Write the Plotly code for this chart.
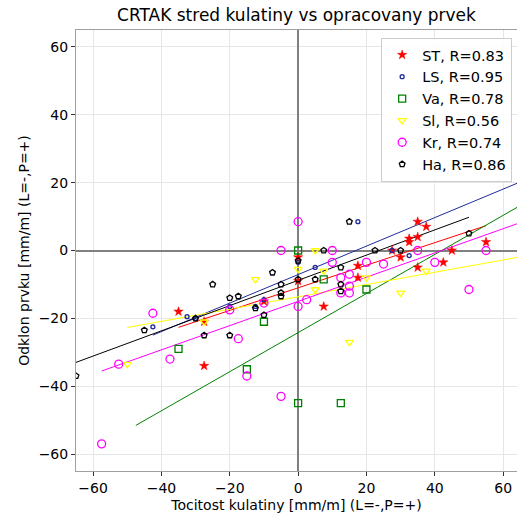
import plotly.graph_objects as go

title = "CRTAK stred kulatiny vs opracovany prvek"
x_title = "Tocitost kulatiny [mm/m] (L=-,P=+)"
y_title = "Odklon prvku [mm/m] (L=-,P=+)"

series_names = ["ST", "LS", "Va", "Sl", "Kr", "Ha"]
series_r = ["0.83", "0.95", "0.78", "0.56", "0.74", "0.86"]

st_x = [-35, -27.5, -27.5, -10, 0, 0, 7.5, 17.5, 17.5, 27.5, 30, 32.5, 32.5, 35, 35, 37.5, 35, 42.5, 45, 55]
st_y = [-18, -21, -34, -15, -2, -9, -16.5, -4.5, -8, 0, -2, 2.5, 3.5, 4, 8.5, 7, -5, -3.5, 0, 2.5]

ls_x = [-42.5, -32.5, -30, -20, -12.5, -10, 0, 5, 17.5, 32.5, 27.5]
ls_y = [-22.5, -19.5, -20, -16.5, -16.5, -14.5, -3.5, -5, 8.5, -1.5, 0]

va_x = [-35, -15, -10, 0, 0, 7.5, 12.5, 20]
va_y = [-29, -35, -21, -45, 0, -8.5, -45, -11.5]

sl_x = [-50, -27.5, -12.5, 0, 5, 7.5, 5, 15, 20, 30, 37.5]
sl_y = [-33.5, -21, -8.5, -5.5, 0, -6, -11.5, -27, -8, -12.5, -6]

kr_x = [-57.5, -52.5, -42.5, -37.5, -20, -17.5, -15, -10, -5, -5, 0, 0, 2.5, 10, 10,
        12.5, 12.5, 15, 15, 15, 20, 25, 35, 40, 50, 55]
kr_y = [-57, -33.5, -18.5, -32, -17.5, -26, -37, -15.5, 0, -43, 8.5, -16.5, -14.5, 0, -3.5,
        -8, -12.5, -7, -10.5, -12.5, -3.5, -4, 0, -3.5, -11.5, 0]

ha_x = [-65, -45, -30, -27.5, -25, -20, -20, -17.5, -12.5, -10, -7.5, -5, -5, -5, 0, 0,
        5, 7.5, 12.5, 12.5, 12.5, 15, 22.5, 30, 50]
ha_y = [-37, -23.5, -20, -25, -10, -14, -25, -13.5, -17, -19, -6.5, -10, -12.5, -13.5, -3, -8.5,
        -8.5, 0, -5, -10, -12, 8.5, 0, 0, 5]

# regression lines
fit_slope = [0.333, 0.42, 0.576, 0.181, 0.357, 0.372]
fit_intercept = [-11.0, -7.1, -24.2, -13.65, -15.0, -8.8]
fit_x0 = [-35, -42.5, -47.5, -50, -57.5, -65]
fit_x1 = [55, 70, 70, 70, 70, 50]

colors = ["red", "#1f2a9a", "green", "#ffff00", "#ff00ff", "black"]
symbols = ["star", "circle-open", "square-open", "triangle-down-open", "circle-open", "pentagon-open"]
sizes = [7, 4, 7, 7, 8, 6]

xs = [st_x, ls_x, va_x, sl_x, kr_x, ha_x]
ys = [st_y, ls_y, va_y, sl_y, kr_y, ha_y]

fig = go.Figure()
for i, name in enumerate(series_names):
    x0, x1 = fit_x0[i], fit_x1[i]
    fig.add_trace(go.Scatter(
        x=[x0, x1],
        y=[fit_slope[i] * x0 + fit_intercept[i], fit_slope[i] * x1 + fit_intercept[i]],
        mode="lines", line=dict(color=colors[i], width=1), showlegend=False, hoverinfo="skip"))

for i, name in enumerate(series_names):
    mk = dict(symbol=symbols[i], size=sizes[i], color=colors[i])
    if symbols[i] == "star":
        mk["line"] = dict(color=colors[i], width=0.5)
    else:
        mk["line"] = dict(color=colors[i], width=1.3)
    fig.add_trace(go.Scatter(
        x=xs[i], y=ys[i], mode="markers", marker=mk,
        name=f"{name}, R={series_r[i]}"))

axis_common = dict(
    showgrid=True, gridcolor="#e6e6e6", gridwidth=1,
    zeroline=True, zerolinecolor="#808080", zerolinewidth=1.5,
    showline=True, linecolor="#a0a0a0", linewidth=1, mirror=True,
    ticks="outside", ticklen=4, tickcolor="#333333",
    tickfont=dict(size=14, color="black"),
    dtick=20, automargin=False,
)

fig.update_layout(
    width=517, height=517,
    margin=dict(l=76, r=0, t=30, b=46, autoexpand=False),
    paper_bgcolor="white", plot_bgcolor="white",
    font=dict(family="DejaVu Sans", color="black"),
    title=dict(text=title, x=0.5735, xanchor="center", y=0.97, yanchor="middle",
               font=dict(size=17)),
    xaxis=dict(range=[-65, 64.06], title=dict(text=x_title, font=dict(size=14), standoff=5),
               **axis_common),
    yaxis=dict(range=[-65, 65], title=dict(text=y_title, font=dict(size=14), standoff=5),
               **axis_common),
    legend=dict(x=0.989, y=0.982, xanchor="right", yanchor="top",
                bgcolor="rgba(255,255,255,0.85)", bordercolor="#cccccc", borderwidth=1,
                font=dict(size=14.5), itemwidth=30, tracegroupgap=0),
    showlegend=True,
)

fig.write_html("out.html", config={"displayModeBar": False},
               post_script="document.body.style.margin='0';document.body.style.padding='0';")
